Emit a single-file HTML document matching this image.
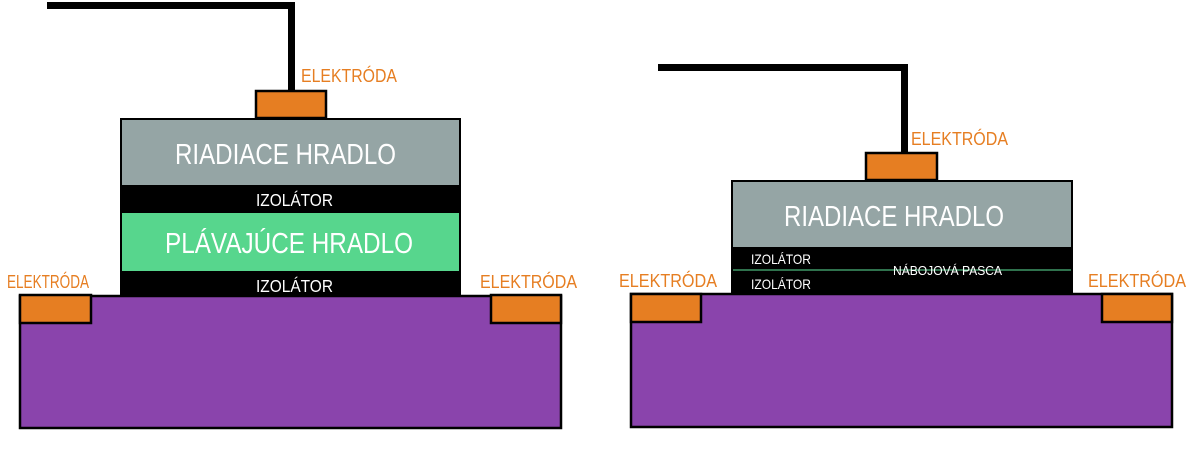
<!DOCTYPE html>
<html><head><meta charset="utf-8"><style>html,body{margin:0;padding:0;background:#fff}svg{display:block}text{font-family:"Liberation Sans",sans-serif}</style></head>
<body>
<svg width="1200" height="459" viewBox="0 0 1200 459" xmlns="http://www.w3.org/2000/svg">
<!-- LEFT -->
<rect x="47" y="2" width="248" height="7" fill="#000"/>
<rect x="288" y="2" width="7" height="90" fill="#000"/>
<rect x="20" y="296" width="541" height="132" fill="#8a44ac" stroke="#000" stroke-width="2.5"/>
<rect x="120" y="118" width="341" height="178" fill="#000"/>
<rect x="122" y="120" width="337" height="65" fill="#95a5a5"/>
<rect x="122" y="213" width="337" height="58" fill="#57d68d"/>
<rect x="256" y="91" width="70" height="27" fill="#e67e22" stroke="#000" stroke-width="2.5"/>
<rect x="20" y="295" width="71" height="28" fill="#e67e22" stroke="#000" stroke-width="2.5"/>
<rect x="491" y="295" width="70" height="28" fill="#e67e22" stroke="#000" stroke-width="2.5"/>
<g fill="#e67e22" font-size="18.5">
<text x="301" y="82" textLength="96" lengthAdjust="spacingAndGlyphs">ELEKTRÓDA</text>
<text x="7" y="288" textLength="82" lengthAdjust="spacingAndGlyphs">ELEKTRÓDA</text>
<text x="480" y="288" textLength="97" lengthAdjust="spacingAndGlyphs">ELEKTRÓDA</text>
</g>
<g fill="#fff">
<text x="175" y="164" font-size="29" textLength="221" lengthAdjust="spacingAndGlyphs">RIADIACE HRADLO</text>
<text x="256" y="206" font-size="17.5" textLength="77" lengthAdjust="spacingAndGlyphs">IZOLÁTOR</text>
<text x="165" y="253" font-size="29" textLength="248" lengthAdjust="spacingAndGlyphs">PLÁVAJÚCE HRADLO</text>
<text x="256" y="292" font-size="17.5" textLength="77" lengthAdjust="spacingAndGlyphs">IZOLÁTOR</text>
</g>
<!-- RIGHT -->
<rect x="658" y="64" width="250" height="7" fill="#000"/>
<rect x="901" y="64" width="7" height="89" fill="#000"/>
<rect x="631" y="294" width="541" height="133" fill="#8a44ac" stroke="#000" stroke-width="2.5"/>
<rect x="731" y="180" width="342" height="115" fill="#000"/>
<rect x="733" y="182" width="338" height="65" fill="#95a5a5"/>
<rect x="733" y="269.5" width="338" height="1" fill="#5ee39a"/>
<rect x="866" y="153" width="71" height="27" fill="#e67e22" stroke="#000" stroke-width="2.5"/>
<rect x="631" y="294" width="70" height="28" fill="#e67e22" stroke="#000" stroke-width="2.5"/>
<rect x="1102" y="294" width="70" height="28" fill="#e67e22" stroke="#000" stroke-width="2.5"/>
<g fill="#e67e22" font-size="18.5">
<text x="911" y="145" textLength="97" lengthAdjust="spacingAndGlyphs">ELEKTRÓDA</text>
<text x="619" y="287" textLength="98" lengthAdjust="spacingAndGlyphs">ELEKTRÓDA</text>
<text x="1088" y="287" textLength="98" lengthAdjust="spacingAndGlyphs">ELEKTRÓDA</text>
</g>
<g fill="#fff">
<text x="784" y="226" font-size="29" textLength="220" lengthAdjust="spacingAndGlyphs">RIADIACE HRADLO</text>
<text x="751" y="264" font-size="14" textLength="60" lengthAdjust="spacingAndGlyphs">IZOLÁTOR</text>
<text x="751" y="289" font-size="14" textLength="60" lengthAdjust="spacingAndGlyphs">IZOLÁTOR</text>
<text x="893" y="275" font-size="13" textLength="109" lengthAdjust="spacingAndGlyphs">NÁBOJOVÁ PASCA</text>
</g>
</svg>
</body></html>
